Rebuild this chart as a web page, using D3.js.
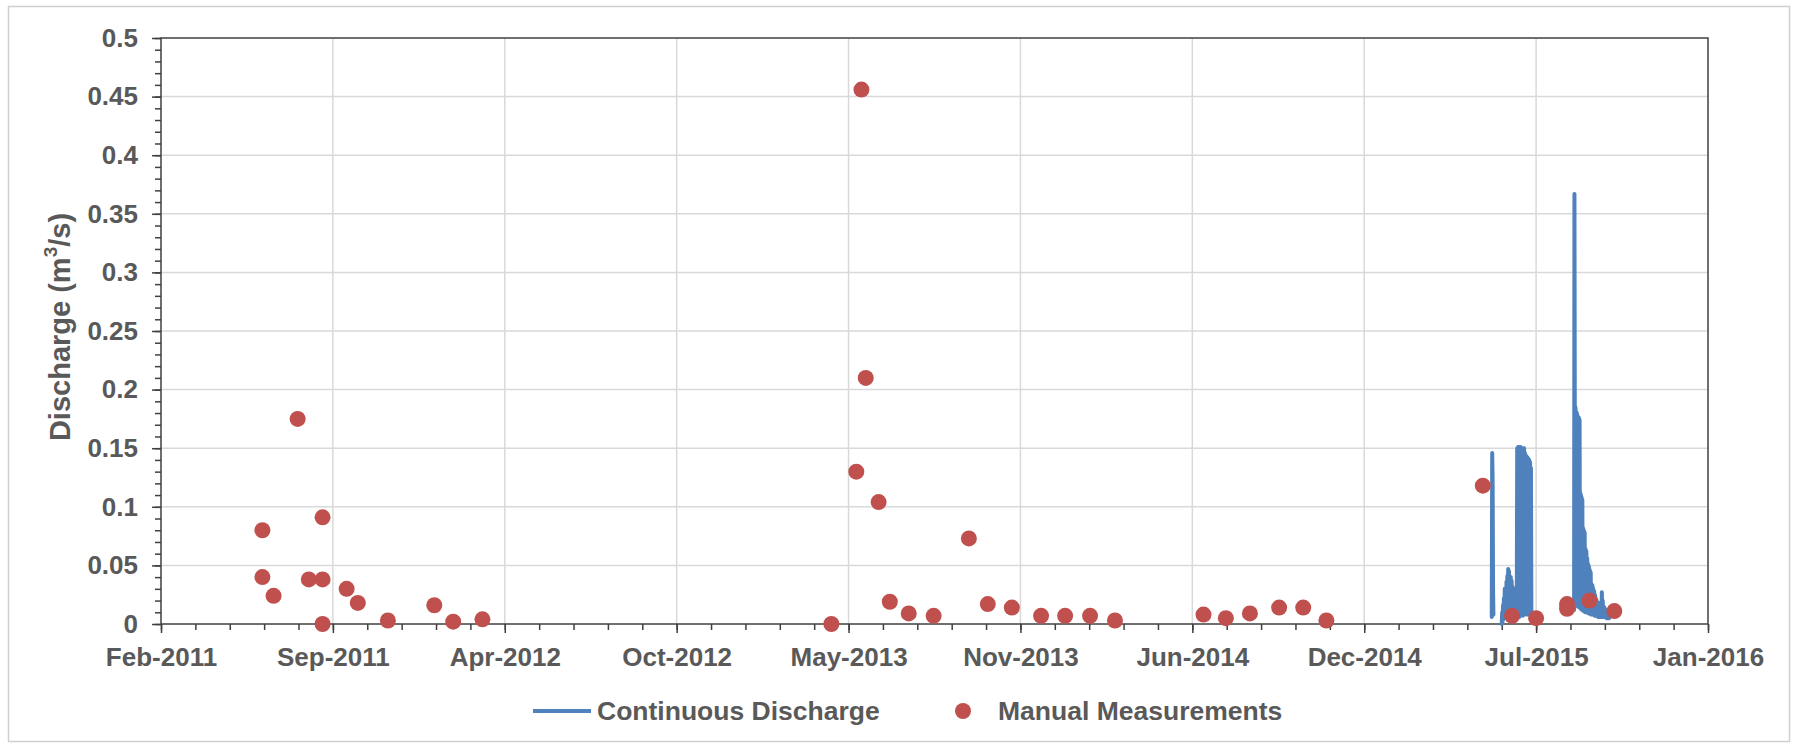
<!DOCTYPE html>
<html>
<head>
<meta charset="utf-8">
<script src="https://cdn.jsdelivr.net/npm/d3@7"></script>
<style>
html, body { margin: 0; padding: 0; background: #ffffff; }
svg { display: block; font-family: "Liberation Sans", Arial, Helvetica, sans-serif; }
</style>
</head>
<body>
<svg id="chart" width="1798" height="748"></svg>
<script>
// ---------------- DATA ----------------
const xDomain = ["2011-02-26", "2016-01-31"];
const xMajorStepDays = 200;
const xMinorStepDays = 40;
const yTicks = [0, 0.05, 0.1, 0.15, 0.2, 0.25, 0.3, 0.35, 0.4, 0.45, 0.5];
const yMinorStep = 0.01;

const seriesNames = ["Continuous Discharge", "Manual Measurements"];

const manualDates = [
  "2011-06-24","2011-06-24","2011-07-07","2011-08-04","2011-08-17","2011-09-02","2011-09-02","2011-09-02",
  "2011-09-30","2011-10-13","2011-11-17","2012-01-10","2012-02-01","2012-03-06",
  "2013-04-16","2013-05-15","2013-05-21","2013-05-26","2013-06-10","2013-06-23","2013-07-15","2013-08-13",
  "2013-09-23","2013-10-15","2013-11-12","2013-12-16","2014-01-13","2014-02-11","2014-03-12",
  "2014-06-23","2014-07-19","2014-08-16","2014-09-19","2014-10-17","2014-11-13",
  "2015-05-14","2015-06-17","2015-07-15","2015-08-20","2015-08-20","2015-09-15","2015-10-14"
];
const manualValues = [
  0.080,0.040,0.024,0.175,0.038,0.038,0.091,0.000,
  0.030,0.018,0.003,0.016,0.002,0.004,
  0.000,0.130,0.456,0.210,0.104,0.019,0.009,0.007,
  0.073,0.017,0.014,0.007,0.007,0.007,0.003,
  0.008,0.005,0.009,0.014,0.014,0.003,
  0.118,0.007,0.005,0.017,0.013,0.020,0.011
];

// continuous record: days after this date, and discharge (null = gap)
const contBaseDate = "2015-05-01";
const contDays = [
  23.4, 23.9, 24.4, 24.9, 25.3,
  35.0, 35.5, 36.0, 36.5, 37.0, 37.5, 38.0, 38.5, 39.0, 39.5, 40.0, 40.5, 41.0, 41.5, 42.0, 42.5,
  43.0, 43.5, 44.0, 44.5, 45.0, 45.5, 46.0, 46.5, 47.0, 47.5, 48.0, 48.5, 49.0, 49.5, 50.0, 50.5,
  51.0, 51.5, 52.0, 52.5,
  53.0, 53.5, 54.0, 54.5, 55.0, 55.5, 56.0, 56.5, 57.0, 57.5, 58.0, 58.5, 59.0, 59.5, 60.0, 60.5,
  61.0, 61.5, 62.0, 62.5, 63.0, 63.5, 64.0, 64.5, 65.0, 65.5, 66.0, 66.5, 67.0, 67.5, 68.0, 68.5,
  69.0, 69.5, 70.0,
  119.2, 119.6, 120.0, 120.4, 120.8, 121.2, 121.6, 122.0, 122.4, 122.8, 123.2, 123.6, 124.0, 124.4,
  124.8, 125.2, 125.6, 126.0, 126.4, 126.8, 127.2, 127.6, 128.0, 128.4, 128.8, 129.2, 129.6, 130.0,
  130.5, 131.0, 131.5, 132.0, 132.5, 133.0, 133.5, 134.0, 134.5, 135.0, 135.5, 136.0, 136.5, 137.0,
  137.5, 138.0, 138.5, 139.0, 139.5, 140.0, 140.5, 141.0, 141.5, 142.0, 142.5, 143.0, 143.5, 144.0,
  144.5, 145.0, 145.5, 146.0, 146.5, 147.0, 147.5, 148.0, 148.5, 149.0, 149.5, 150.0, 150.5, 151.0,
  151.5, 152.0, 152.5, 153.0, 153.5, 154.0, 154.5, 155.0, 155.5, 156.0, 156.5, 157.0, 157.5, 158.0,
  158.5, 159.0, 159.5, 160.0
];
const contValues = [
  0.006, 0.146, 0.124, 0.030, 0.008,
  0.000, 0.010, 0.002, 0.016, 0.004, 0.022, 0.005, 0.030, 0.006, 0.026, 0.006, 0.036, 0.008, 0.041, 0.009, 0.047,
  0.010, 0.045, 0.008, 0.035, 0.006, 0.040, 0.005, 0.037, 0.005, 0.032, 0.004, 0.028, 0.004, 0.030, 0.003, 0.024,
  0.003, 0.020, 0.004, 0.012,
  0.150, 0.008, 0.151, 0.010, 0.151, 0.006, 0.150, 0.012, 0.151, 0.008, 0.149, 0.010, 0.150, 0.007, 0.148, 0.012,
  0.150, 0.009, 0.146, 0.011, 0.144, 0.008, 0.143, 0.010, 0.142, 0.009, 0.141, 0.008, 0.140, 0.010, 0.138, 0.007,
  0.133, 0.009, 0.006,
  0.012, 0.367, 0.182, 0.020, 0.185, 0.020, 0.181, 0.018, 0.180, 0.016, 0.178, 0.015, 0.176, 0.015,
  0.176, 0.014, 0.174, 0.014, 0.112, 0.013, 0.110, 0.013, 0.108, 0.012, 0.106, 0.012, 0.082, 0.011,
  0.080, 0.011, 0.078, 0.010, 0.064, 0.010, 0.062, 0.010, 0.056, 0.010, 0.051, 0.009, 0.049, 0.009,
  0.046, 0.009, 0.044, 0.008, 0.034, 0.008, 0.033, 0.008, 0.030, 0.008, 0.028, 0.007, 0.025, 0.007,
  0.022, 0.007, 0.020, 0.007, 0.018, 0.006, 0.016, 0.006, 0.018, 0.006, 0.016, 0.006, 0.018, 0.006,
  0.027, 0.006, 0.020, 0.006, 0.015, 0.006, 0.014, 0.006, 0.012, 0.006, 0.012, 0.005, 0.011, 0.005,
  0.010, 0.005, 0.009, 0.005
];
// gaps in the continuous record (days after contBaseDate) where the logger line breaks
const contGapDays = [30, 100];

// ---------------- STYLE / LAYOUT ----------------
const W = 1798, H = 748;
const plot = { left: 161, right: 1708, top: 38, bottom: 624 };
const textColor = "#595959";
const axisColor = "#404040";
const gridColor = "#d9d9d9";
const lineColor = "#4f81bd";
const dotColor = "#c0504d";
const tickFont = 26;
const legendFont = 26.5;

const svg = d3.select("#chart");
const parse = d3.utcParse("%Y-%m-%d");

// outer chart border
svg.append("rect")
  .attr("x", 8.5).attr("y", 6.5).attr("width", W - 17).attr("height", H - 13)
  .attr("fill", "#fff").attr("stroke", "#d0d0d0").attr("stroke-width", 1.5);

const x = d3.scaleUtc().domain(xDomain.map(parse)).range([plot.left, plot.right]);
const y = d3.scaleLinear().domain([0, 0.5]).range([plot.bottom, plot.top]);

const start = parse(xDomain[0]);
const end = parse(xDomain[1]);
const totalDays = d3.utcDay.count(start, end);
const xMajor = d3.range(0, totalDays + 1, xMajorStepDays).map(d => d3.utcDay.offset(start, d));
const xMinor = d3.range(0, totalDays + 1, xMinorStepDays).map(d => d3.utcDay.offset(start, d));
const yMinor = d3.range(0, 0.5 + 1e-9, yMinorStep);

// gridlines
const grid = svg.append("g");
grid.selectAll("line.h").data(yTicks.slice(1, -1)).join("line")
  .attr("x1", plot.left).attr("x2", plot.right)
  .attr("y1", d => y(d)).attr("y2", d => y(d))
  .attr("stroke", gridColor).attr("stroke-width", 1.5);
grid.selectAll("line.v").data(xMajor.slice(1, -1)).join("line")
  .attr("x1", d => x(d)).attr("x2", d => x(d))
  .attr("y1", plot.top).attr("y2", plot.bottom)
  .attr("stroke", gridColor).attr("stroke-width", 1.5);

// frame
svg.append("rect")
  .attr("x", plot.left).attr("y", plot.top)
  .attr("width", plot.right - plot.left).attr("height", plot.bottom - plot.top)
  .attr("fill", "none").attr("stroke", axisColor).attr("stroke-width", 1.5);

// Y axis
const yAxis = svg.append("g").attr("transform", `translate(${plot.left},0)`);
yAxis.call(d3.axisLeft(y).tickValues(yMinor).tickSize(6).tickFormat(""))
  .call(g => g.select(".domain").remove());
yAxis.selectAll("line").attr("stroke", axisColor).attr("stroke-width", 1.5);
const yMaj = svg.append("g").attr("transform", `translate(${plot.left},0)`)
  .call(d3.axisLeft(y).tickValues(yTicks).tickSize(9).tickPadding(14).tickFormat(d3.format("")));
yMaj.select(".domain").remove();
yMaj.selectAll("line").attr("stroke", axisColor).attr("stroke-width", 1.5);
yMaj.selectAll("text")
  .attr("fill", textColor).attr("font-size", tickFont).attr("font-weight", "bold")
  .attr("font-family", "Liberation Sans, Arial, sans-serif");

// X axis
const xAxisMinor = svg.append("g").attr("transform", `translate(0,${plot.bottom})`)
  .call(d3.axisBottom(x).tickValues(xMinor).tickSize(6).tickFormat(""));
xAxisMinor.select(".domain").remove();
xAxisMinor.selectAll("line").attr("stroke", axisColor).attr("stroke-width", 1.5);
const xAxisMajor = svg.append("g").attr("transform", `translate(0,${plot.bottom})`)
  .call(d3.axisBottom(x).tickValues(xMajor).tickSize(9).tickPadding(15).tickFormat(d3.utcFormat("%b-%Y")));
xAxisMajor.select(".domain").remove();
xAxisMajor.selectAll("line").attr("stroke", axisColor).attr("stroke-width", 1.5);
xAxisMajor.selectAll("text")
  .attr("fill", textColor).attr("font-size", tickFont).attr("font-weight", "bold")
  .attr("font-family", "Liberation Sans, Arial, sans-serif");

// Y title
const yTitle = svg.append("text")
  .attr("transform", `translate(60,${(plot.top + plot.bottom) / 2 - 4}) rotate(-90)`)
  .attr("text-anchor", "middle").attr("dominant-baseline", "central")
  .attr("fill", textColor).attr("font-size", 29).attr("font-weight", "bold");
yTitle.append("tspan").text("Discharge (m");
yTitle.append("tspan").attr("font-size", 19).attr("dy", -10).text("3");
yTitle.append("tspan").attr("dy", 10).text("/s)");

// continuous line (split at the logger gaps)
const base = parse(contBaseDate);
const contData = contDays.map((d, i) => ({ day: d, t: new Date(base.getTime() + d * 864e5), v: contValues[i] }));
const segBounds = [-Infinity, ...contGapDays, Infinity];
const segments = d3.range(segBounds.length - 1).map(k =>
  contData.filter(p => p.day > segBounds[k] && p.day < segBounds[k + 1]));
const line = d3.line().defined(d => d.v != null).x(d => x(d.t)).y(d => y(d.v));
svg.append("g").selectAll("path").data(segments).join("path")
  .attr("d", line).attr("fill", "none")
  .attr("stroke", lineColor).attr("stroke-width", 4)
  .attr("stroke-linejoin", "round").attr("stroke-linecap", "round");

// manual measurements
const manData = manualDates.map((d, i) => ({ t: parse(d), v: manualValues[i] }));
svg.append("g").selectAll("circle").data(manData).join("circle")
  .attr("cx", d => x(d.t)).attr("cy", d => y(d.v)).attr("r", 8)
  .attr("fill", dotColor);

// legend
const legY = 711;
const leg = svg.append("g");
leg.append("line").attr("x1", 533).attr("x2", 591).attr("y1", legY).attr("y2", legY)
  .attr("stroke", lineColor).attr("stroke-width", 4);
leg.append("text").attr("x", 597).attr("y", legY).attr("dominant-baseline", "central")
  .attr("fill", textColor).attr("font-size", legendFont).attr("font-weight", "bold").text(seriesNames[0]);
leg.append("circle").attr("cx", 963).attr("cy", legY).attr("r", 8).attr("fill", dotColor);
leg.append("text").attr("x", 998).attr("y", legY).attr("dominant-baseline", "central")
  .attr("fill", textColor).attr("font-size", legendFont).attr("font-weight", "bold").text(seriesNames[1]);
</script>
</body>
</html>
